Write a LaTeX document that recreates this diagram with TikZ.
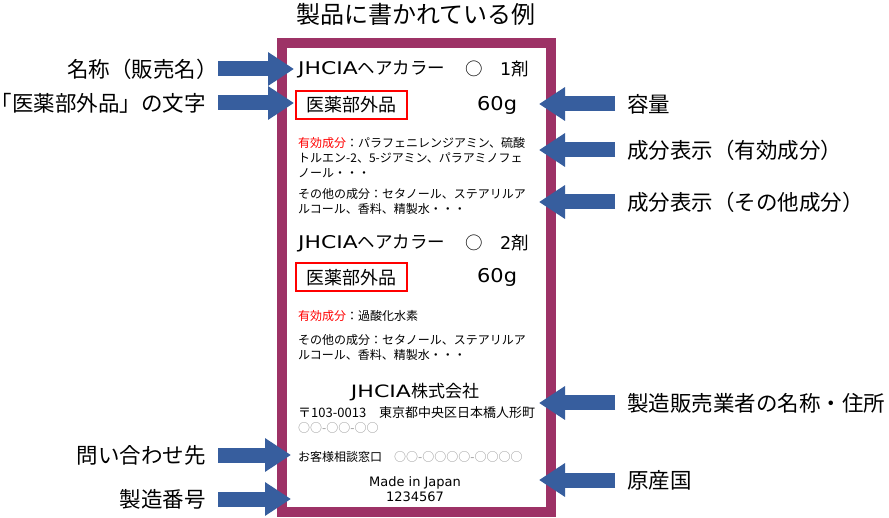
\documentclass[tikz,border=0pt]{standalone}
\usepackage{fontspec}
\usepackage{graphicx}
\setmainfont{Noto Sans CJK JP}
\newfontfamily\latfont{DejaVu Sans}
\usetikzlibrary{arrows.meta}
\definecolor{framepurple}{RGB}{157,50,102}
\definecolor{arrowblue}{RGB}{55,94,158}
\definecolor{circgray}{RGB}{150,150,150}
\newcommand{\widelat}[2]{\scalebox{#1}[1]{\latfont #2}}
\begin{document}
\begin{tikzpicture}[x=1pt,y=-1pt,
  lbl/.style={inner sep=0pt,font=\fontsize{21.5}{25}\selectfont},
  barrow/.style={draw=arrowblue,line width=15pt,-{Triangle[width=32pt,length=26pt]},arrowblue},
  frm/.style={draw=framepurple,line width=10pt},
  big/.style={inner sep=0pt,anchor=west,font=\fontsize{17.5}{20}\selectfont},
  mid/.style={inner sep=0pt,font=\fontsize{13}{15}\selectfont},
  sml/.style={inner sep=0pt,font=\fontsize{12}{14}\selectfont},
  para/.style={inner sep=0pt,anchor=north west,align=left,font=\fontsize{12}{15}\selectfont},
  redbox/.style={draw=red,line width=2pt}
]
\useasboundingbox (0,0) rectangle (889,518);
\fill[white] (0,0) rectangle (889,518);

% title
\node[inner sep=0pt,font=\fontsize{24}{28}\selectfont] (title) at (416,14) {製品に書かれている例};

% frame
\draw[frm] (281.5,43) rectangle (551,511.5);

% block 1
\node[big] (n1) at (298,69) {\widelat{1.25}{JHCIA}ヘアカラー};
\node[big] (c1) at (465,69) {○};
\node[big] (z1) at (500,69) {\latfont 1\rmfamily 剤};
\node[redbox,minimum width=111pt,minimum height=28pt,inner sep=0pt] (b1) at (351.5,105) {};
\node[inner sep=0pt,font=\fontsize{18}{20}\selectfont] (q1) at (b1.center) {医薬部外品};
\node[inner sep=0pt,anchor=west,font=\fontsize{19}{22}\selectfont] (g1) at (477,105) {\widelat{1.1}{60g}};
\node[para] (p1) at (298,137) {{\color{red}有効成分}：パラフェニレンジアミン、硫酸\\トルエン-2、5-ジアミン、パラアミノフェ\\ノール・・・};
\node[para] (o1) at (298,188) {その他の成分：セタノール、ステアリルア\\ルコール、香料、精製水・・・};

% block 2
\node[big] (n2) at (298,243) {\widelat{1.25}{JHCIA}ヘアカラー};
\node[big] (c2) at (465,243) {○};
\node[big] (z2) at (500,243) {\latfont 2\rmfamily 剤};
\node[redbox,minimum width=111pt,minimum height=28pt,inner sep=0pt] (b2) at (351.5,277.5) {};
\node[inner sep=0pt,font=\fontsize{18}{20}\selectfont] (q2) at (b2.center) {医薬部外品};
\node[inner sep=0pt,anchor=west,font=\fontsize{19}{22}\selectfont] (g2) at (477,277) {\widelat{1.1}{60g}};
\node[para] (p2) at (298,310) {{\color{red}有効成分}：過酸化水素};
\node[para] (o2) at (298,334) {その他の成分：セタノール、ステアリルア\\ルコール、香料、精製水・・・};

% company
\node[inner sep=0pt,font=\fontsize{17}{20}\selectfont] (co) at (415,392) {\widelat{1.3}{JHCIA}株式会社};
\node[mid,anchor=west] (ad) at (298,413) {〒103-0013　東京都中央区日本橋人形町};
\node[sml,anchor=west,text=circgray] (ad2) at (298,428) {○○-○○-○○};
\node[sml,anchor=west] (tel) at (298,457) {お客様相談窓口　{\color{circgray}○○-○○○○-○○○○}};
\node[mid,align=center,font=\fontsize{13}{15}\latfont] (mj) at (415,489.5) {Made in Japan\\1234567};

% left labels
\node[lbl,anchor=east] (L1) at (218,69) {名称（販売名）};
\node[lbl,anchor=east] (L2) at (206,103) {「医薬部外品」の文字};
\node[lbl,anchor=east] (L3) at (206,455) {問い合わせ先};
\node[lbl,anchor=east] (L4) at (206,499) {製造番号};

\coordinate (tL1) at (294,69);
\coordinate (tL2) at (294,103);
\coordinate (tL3) at (291,455);
\coordinate (tL4) at (291,499);

\draw[barrow] (L1.east) -- (tL1);
\draw[barrow] ([xshift=12pt]L2.east) -- (tL2);
\draw[barrow] ([xshift=12pt]L3.east) -- (tL3);
\draw[barrow] ([xshift=12pt]L4.east) -- (tL4);

% right labels
\node[lbl,anchor=west] (R1) at (627,104) {容量};
\node[lbl,anchor=west] (R2) at (627,150) {成分表示（有効成分）};
\node[lbl,anchor=west] (R3) at (627,202) {成分表示（その他成分）};
\node[lbl,anchor=west] (R4) at (627,403) {製造販売業者の名称・住所};
\node[lbl,anchor=west] (R5) at (627,480) {原産国};

\coordinate (tR1) at (539,104);
\coordinate (tR2) at (539,150);
\coordinate (tR3) at (539,202);
\coordinate (tR4) at (539,403);
\coordinate (tR5) at (539,480);

\draw[barrow] ([xshift=-12pt]R1.west) -- (tR1);
\draw[barrow] ([xshift=-12pt]R2.west) -- (tR2);
\draw[barrow] ([xshift=-12pt]R3.west) -- (tR3);
\draw[barrow] ([xshift=-12pt]R4.west) -- (tR4);
\draw[barrow] ([xshift=-12pt]R5.west) -- (tR5);
\end{tikzpicture}
\end{document}
